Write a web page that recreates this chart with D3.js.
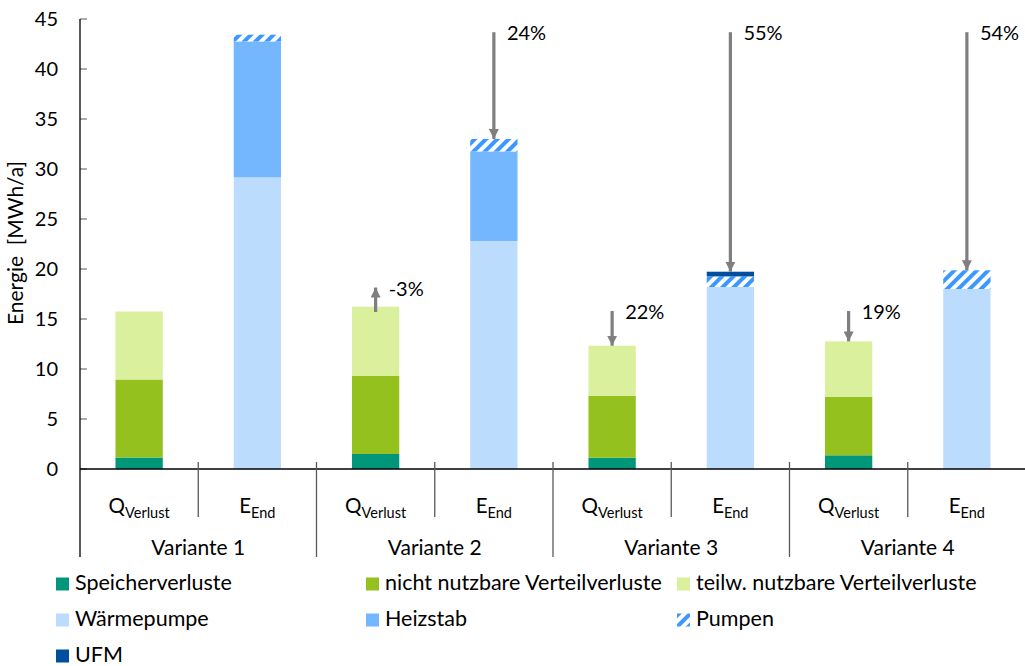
<!DOCTYPE html>
<html>
<head>
<meta charset="utf-8">
<script src="https://cdn.jsdelivr.net/npm/d3@7"></script>
<style>
  html, body { margin: 0; padding: 0; background: #fff; }
  svg { display: block; font-family: Lato, "Noto Sans", sans-serif; }
</style>
</head>
<body>
<svg id="chart" width="1025" height="666"></svg>
<script>
// Variants and the two columns shown for each
const variants = ["Variante 1", "Variante 2", "Variante 3", "Variante 4"];
const columns = ["Q", "E"];

// Losses column (MWh/a)
const speicherverluste   = [1.15, 1.50, 1.13, 1.37];
const nichtNutzbar       = [7.80, 7.80, 6.20, 5.86];
const teilwNutzbar       = [6.80, 6.93, 5.00, 5.53];

// Final energy column (MWh/a)
const waermepumpe = [29.16, 22.80, 18.20, 18.00];
const heizstab    = [13.60, 8.96, 0.00, 0.00];
const pumpen      = [0.67, 1.24, 1.06, 1.87];
const ufm         = [0.00, 0.00, 0.47, 0.00];

// Change against Variante 1
const changeQ = ["", "-3%", "22%", "19%"];
const changeE = ["", "24%", "55%", "54%"];

const yTicks = [0, 5, 10, 15, 20, 25, 30, 35, 40, 45];

const legendItems = [
  { key: "speicher", label: "Speicherverluste" },
  { key: "nicht", label: "nicht nutzbare Verteilverluste" },
  { key: "teilw", label: "teilw. nutzbare Verteilverluste" },
  { key: "wp", label: "Wärmepumpe" },
  { key: "heiz", label: "Heizstab" },
  { key: "pumpen", label: "Pumpen" },
  { key: "ufm", label: "UFM" }
];

const colors = {
  speicher: "#00967A",
  nicht: "#95C11F",
  teilw: "#DAF09C",
  wp: "#BCDCFE",
  heiz: "#74B7FF",
  pumpen: "url(#hatch)",
  ufm: "#004F9F"
};

const svg = d3.select("#chart");
const plotLeft = 80, plotRight = 1026, plotTop = 19, plotBottom = 469;
const fontSize = 20;

// hatch pattern for Pumpen
const defs = svg.append("defs");
const pat = defs.append("pattern")
  .attr("id", "hatch")
  .attr("patternUnits", "userSpaceOnUse")
  .attr("width", 8).attr("height", 8)
  .attr("patternTransform", "rotate(45)");
pat.append("rect").attr("width", 8).attr("height", 8).attr("fill", "#fff");
pat.append("rect").attr("width", 4).attr("height", 8).attr("fill", "#3A98FF");

// scales
const slots = variants.flatMap(v => columns.map(c => v + "|" + c));
const x = d3.scaleBand().domain(slots).range([plotLeft, plotRight]).paddingInner(0).paddingOuter(0);
const y = d3.scaleLinear().domain([0, 45]).range([plotBottom, plotTop]);
const barW = x.bandwidth() * 0.4;
const cx = s => x(s) + x.bandwidth() / 2;

// stacked data
const rows = [];
variants.forEach((v, i) => {
  rows.push({ slot: v + "|Q", parts: [
    ["speicher", speicherverluste[i]], ["nicht", nichtNutzbar[i]], ["teilw", teilwNutzbar[i]]] });
  rows.push({ slot: v + "|E", parts: [
    ["wp", waermepumpe[i]], ["heiz", heizstab[i]], ["pumpen", pumpen[i]], ["ufm", ufm[i]]] });
});

const segs = [];
rows.forEach(r => {
  let acc = 0;
  r.parts.forEach(([k, val]) => {
    if (val > 0) segs.push({ slot: r.slot, key: k, y0: acc, y1: acc + val });
    acc += val;
  });
  r.total = acc;
});

svg.append("g").selectAll("rect").data(segs).join("rect")
  .attr("x", d => cx(d.slot) - barW / 2)
  .attr("width", barW)
  .attr("y", d => y(d.y1))
  .attr("height", d => y(d.y0) - y(d.y1))
  .attr("fill", d => colors[d.key]);

// y axis
const yAxis = svg.append("g").attr("transform", `translate(${plotLeft},0)`)
  .call(d3.axisLeft(y).tickValues(yTicks).tickSize(0).tickPadding(22));
yAxis.select(".domain").remove();
yAxis.selectAll("text").attr("font-size", fontSize).attr("fill", "#000")
  .attr("font-family", "Lato, 'Noto Sans', sans-serif");
svg.append("g").selectAll("line").data(yTicks).join("line")
  .attr("x1", plotLeft).attr("x2", plotLeft + 7)
  .attr("y1", d => y(d)).attr("y2", d => y(d))
  .attr("stroke", "#7f7f7f").attr("stroke-width", 1.3);
svg.append("line").attr("x1", plotLeft).attr("x2", plotLeft)
  .attr("y1", plotTop).attr("y2", 557).attr("stroke", "#000").attr("stroke-width", 1.3);

// x axis and category separators
svg.append("line").attr("x1", plotLeft).attr("x2", plotRight)
  .attr("y1", plotBottom).attr("y2", plotBottom).attr("stroke", "#000").attr("stroke-width", 1.3);
slots.forEach((s, i) => {
  if (i === 0) return;
  const groupEdge = i % 2 === 0;
  svg.append("line")
    .attr("x1", x(s)).attr("x2", x(s))
    .attr("y1", plotBottom - 7).attr("y2", groupEdge ? 557 : 517)
    .attr("stroke", "#595959").attr("stroke-width", 1.3);
});

// column labels with subscripts
slots.forEach(s => {
  const isQ = s.endsWith("|Q");
  const t = svg.append("text")
    .attr("x", cx(s)).attr("y", 513)
    .attr("text-anchor", "middle").attr("font-size", 20.5).attr("fill", "#000");
  t.append("tspan").text(isQ ? "Q" : "E");
  t.append("tspan").attr("dy", 5).attr("font-size", 14.5).text(isQ ? "Verlust" : "End");
});
variants.forEach(v => {
  svg.append("text")
    .attr("x", x(v + "|E")).attr("y", 555)
    .attr("text-anchor", "middle").attr("font-size", 21).attr("fill", "#000")
    .text(v);
});

// y axis title
svg.append("text")
  .attr("transform", "translate(23,243) rotate(-90)")
  .attr("text-anchor", "middle").attr("font-size", 21).attr("fill", "#000")
  .attr("xml:space", "preserve")
  .text("Energie  [MWh/a]");

// change arrows against Variante 1
defs.append("marker").attr("id", "arrow")
  .attr("viewBox", "0 0 10 10").attr("refX", 10).attr("refY", 5)
  .attr("markerWidth", 10).attr("markerHeight", 10)
  .attr("markerUnits", "userSpaceOnUse").attr("orient", "auto")
  .append("path").attr("d", "M0,0 L10,5 L0,10 Z").attr("fill", "#7f7f7f");

const refQ = rows[0].total, refE = rows[1].total;
variants.forEach((v, i) => {
  if (i === 0) return;
  [["Q", refQ, changeQ[i]], ["E", refE, changeE[i]]].forEach(([c, ref, lbl]) => {
    const r = rows.find(rr => rr.slot === v + "|" + c);
    const xa = cx(r.slot);
    let from = ref + (c === "E" ? 0.25 : 0.05);
    let to = r.total;
    if (to > ref) { from = ref - 0.05; to = Math.max(to, ref + 2.4); }
    svg.append("line")
      .attr("x1", xa).attr("x2", xa)
      .attr("y1", y(from)).attr("y2", y(to))
      .attr("stroke", "#7f7f7f").attr("stroke-width", 3.2)
      .attr("marker-end", "url(#arrow)");
    const topY = Math.min(y(from), y(to));
    svg.append("text")
      .attr("x", xa + 13).attr("y", topY + 3)
      .attr("dominant-baseline", "middle")
      .attr("font-size", fontSize).attr("fill", "#000")
      .text(lbl);
  });
});

// legend
const legCols = [56, 366, 677];
const legRows = [584, 620, 656];
legendItems.forEach((it, i) => {
  const lx = legCols[i % 3], ly = legRows[Math.floor(i / 3)];
  svg.append("rect").attr("x", lx).attr("y", ly - 6.5).attr("width", 13).attr("height", 13)
    .attr("fill", colors[it.key]);
  svg.append("text").attr("x", lx + 19).attr("y", ly + 1)
    .attr("dominant-baseline", "middle").attr("font-size", 21.5).attr("fill", "#000")
    .text(it.label);
});
</script>
</body>
</html>
